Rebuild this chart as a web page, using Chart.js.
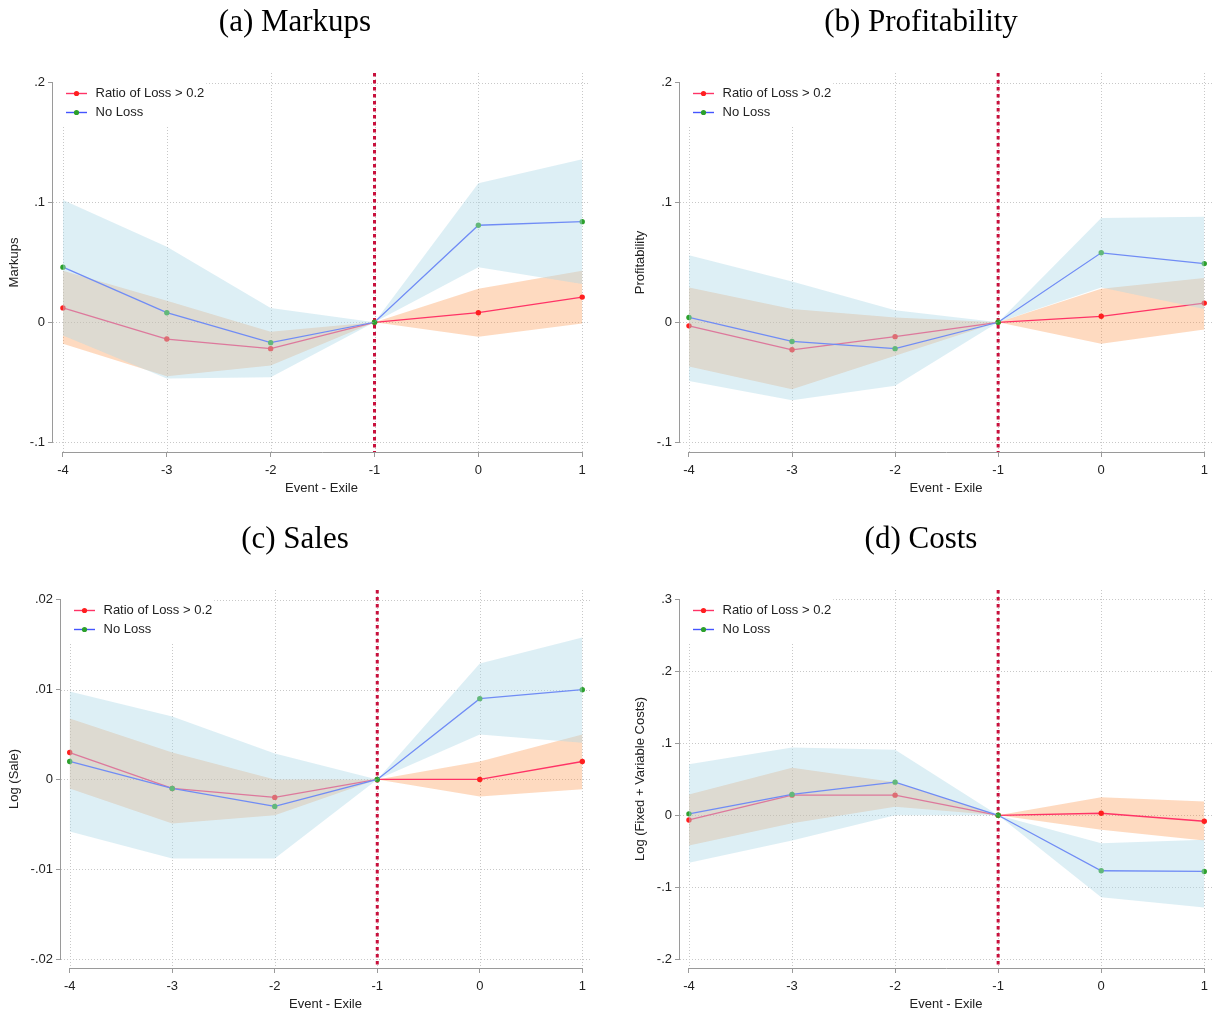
<!DOCTYPE html>
<html>
<head>
<meta charset="utf-8">
<script src="https://cdn.jsdelivr.net/npm/chart.js@4.4.1/dist/chart.umd.min.js"></script>
<style>
  body { margin: 0; background: #fff; width: 1216px; height: 1014px; overflow: hidden; position: relative; }
  canvas { position: absolute; }
</style>
</head>
<body>
<canvas id="chartA" width="608" height="498" style="left:0;top:0"></canvas>
<canvas id="chartB" width="590" height="498" style="left:626px;top:0"></canvas>
<canvas id="chartC" width="608" height="497" style="left:0;top:517px"></canvas>
<canvas id="chartD" width="590" height="497" style="left:626px;top:517px"></canvas>
<script>
// x axis: event time relative to exile
const eventTimes = [-4, -3, -2, -1, 0, 1];
const xTickLabels = ['-4', '-3', '-2', '-1', '0', '1'];
const eventLine = -1;
const seriesNames = ['Ratio of Loss > 0.2', 'No Loss'];
const xTitle = 'Event - Exile';

// (a) Markups
const markupsLoss = [0.012, -0.014, -0.022, 0, 0.008, 0.021];
const markupsLossLo = [-0.018, -0.045, -0.036, 0, -0.012, -0.001];
const markupsLossHi = [0.043, 0.018, -0.008, 0, 0.028, 0.043];
const markupsNoLoss = [0.046, 0.008, -0.017, 0, 0.081, 0.084];
const markupsNoLossLo = [-0.011, -0.047, -0.046, 0, 0.046, 0.032];
const markupsNoLossHi = [0.102, 0.063, 0.012, 0, 0.116, 0.136];
const markupsTicks = [-0.1, 0, 0.1, 0.2];
const markupsTickLabels = ['-.1', '0', '.1', '.2'];

// (b) Profitability
const profitLoss = [-0.003, -0.023, -0.012, 0, 0.005, 0.016];
const profitLossLo = [-0.037, -0.056, -0.028, 0, -0.018, -0.006];
const profitLossHi = [0.029, 0.011, 0.004, 0, 0.028, 0.037];
const profitNoLoss = [0.004, -0.016, -0.022, 0, 0.058, 0.049];
const profitNoLossLo = [-0.049, -0.065, -0.053, 0, 0.029, 0.011];
const profitNoLossHi = [0.056, 0.034, 0.010, 0, 0.087, 0.088];
const profitTicks = [-0.1, 0, 0.1, 0.2];
const profitTickLabels = ['-.1', '0', '.1', '.2'];

// (c) Sales
const salesLoss = [0.003, -0.001, -0.002, 0, 0, 0.002];
const salesLossLo = [-0.0010, -0.0049, -0.0040, 0, -0.0019, -0.0011];
const salesLossHi = [0.0068, 0.0030, 0.0000, 0, 0.0020, 0.0050];
const salesNoLoss = [0.002, -0.001, -0.003, 0, 0.009, 0.010];
const salesNoLossLo = [-0.0058, -0.0088, -0.0088, 0, 0.0050, 0.0041];
const salesNoLossHi = [0.0098, 0.0070, 0.0029, 0, 0.0129, 0.0158];
const salesTicks = [-0.02, -0.01, 0, 0.01, 0.02];
const salesTickLabels = ['-.02', '-.01', '0', '.01', '.02'];

// (d) Costs
const costsLoss = [-0.0065, 0.028, 0.028, 0, 0.0028, -0.0083];
const costsLossLo = [-0.042, -0.011, 0.012, 0, -0.020, -0.035];
const costsLossHi = [0.029, 0.066, 0.046, 0, 0.025, 0.019];
const costsNoLoss = [0.002, 0.029, 0.046, 0, -0.077, -0.078];
const costsNoLossLo = [-0.066, -0.035, 0.000, 0, -0.114, -0.128];
const costsNoLossHi = [0.071, 0.094, 0.091, 0, -0.039, -0.034];
const costsTicks = [-0.2, -0.1, 0, 0.1, 0.2, 0.3];
const costsTickLabels = ['-.2', '-.1', '0', '.1', '.2', '.3'];

// 颜色
const COLORS = {
  loss: '#ff3366',
  lossDot: '#ff1f1f',
  noLoss: '#4455ff',
  noLossDot: '#2ca02c',
  lossBand: 'rgba(253, 141, 60, 0.32)',
  noLossBand: 'rgba(173, 216, 230, 0.42)',
  eventLine: '#c8103c',
  grid: '#c8c8c8',
  axis: '#9a9a9a',
  text: '#222222'
};

const PLOT_TOP = 73; // 绘图区上边缘（画布内坐标）

Chart.defaults.font.family = '"Liberation Sans", Arial, sans-serif';
Chart.defaults.color = COLORS.text;

// 图例小图标：线段 + 圆点
function makeSwatch(lineColor, dotColor) {
  const c = document.createElement('canvas');
  c.width = 30;
  c.height = 7;
  const g = c.getContext('2d');
  g.strokeStyle = lineColor;
  g.lineWidth = 1.4;
  g.beginPath();
  g.moveTo(7, 3.5);
  g.lineTo(28, 3.5);
  g.stroke();
  g.fillStyle = dotColor;
  g.beginPath();
  g.arc(17.5, 3.5, 2.6, 0, Math.PI * 2);
  g.fill();
  return c;
}

const swatchLoss = makeSwatch(COLORS.loss, COLORS.lossDot);
const swatchNoLoss = makeSwatch(COLORS.noLoss, COLORS.noLossDot);

function toPoints(values) {
  return eventTimes.map((x, i) => ({ x: x, y: values[i] }));
}

// Stata 风格：点线网格（避开图例）、事件竖线、只覆盖刻度范围的坐标轴
const stataPlugin = {
  id: 'stataDecor',
  beforeDatasetsDraw(chart) {
    const { ctx, chartArea: ca, scales } = chart;
    let lx = ca.left;
    let ly = ca.top;
    chart.legend.legendHitBoxes.forEach(h => {
      lx = Math.max(lx, h.left + h.width);
      ly = Math.max(ly, h.top + h.height);
    });

    ctx.save();
    ctx.beginPath();
    ctx.rect(ca.left, ca.top, ca.width, ca.height);
    ctx.rect(ca.left, ca.top, lx - ca.left + 2, ly - ca.top + 6);
    ctx.clip('evenodd');
    ctx.strokeStyle = COLORS.grid;
    ctx.lineWidth = 1;
    ctx.setLineDash([1, 2]);
    scales.y.ticks.forEach(t => {
      const y = Math.round(scales.y.getPixelForValue(t.value)) + 0.5;
      ctx.beginPath();
      ctx.moveTo(ca.left, y);
      ctx.lineTo(ca.right, y);
      ctx.stroke();
    });
    scales.x.ticks.forEach(t => {
      const x = Math.round(scales.x.getPixelForValue(t.value)) + 0.5;
      ctx.beginPath();
      ctx.moveTo(x, ca.top);
      ctx.lineTo(x, ca.bottom);
      ctx.stroke();
    });
    ctx.restore();

    const ex = scales.x.getPixelForValue(eventLine);
    ctx.save();
    ctx.strokeStyle = COLORS.eventLine;
    ctx.lineWidth = 3;
    ctx.setLineDash([3.5, 3.5]);
    ctx.beginPath();
    ctx.moveTo(ex, ca.top);
    ctx.lineTo(ex, ca.bottom);
    ctx.stroke();
    ctx.restore();
  },
  afterDraw(chart) {
    const { ctx, chartArea: ca, scales } = chart;
    const yt = scales.y.ticks;
    const xt = scales.x.ticks;
    ctx.save();
    ctx.strokeStyle = COLORS.axis;
    ctx.lineWidth = 1;
    ctx.beginPath();
    const axX = Math.round(ca.left) - 0.5;
    ctx.moveTo(axX, scales.y.getPixelForValue(yt[yt.length - 1].value));
    ctx.lineTo(axX, scales.y.getPixelForValue(yt[0].value));
    const axY = Math.round(ca.bottom) + 0.5;
    ctx.moveTo(scales.x.getPixelForValue(xt[0].value), axY);
    ctx.lineTo(scales.x.getPixelForValue(xt[xt.length - 1].value), axY);
    ctx.stroke();
    ctx.restore();
  }
};

// 创建一个面板
function buildChart(p) {
  const datasets = [
    {
      label: 'noLossHi', data: toPoints(p.noLossHi), order: 0,
      borderWidth: 0, borderColor: 'transparent', pointRadius: 0,
      fill: '+1', backgroundColor: COLORS.noLossBand
    },
    {
      label: 'noLossLo', data: toPoints(p.noLossLo), order: 0,
      borderWidth: 0, borderColor: 'transparent', pointRadius: 0, fill: false
    },
    {
      label: seriesNames[1], data: toPoints(p.noLoss), order: 1,
      borderColor: COLORS.noLoss, borderWidth: 1.3, fill: false,
      pointRadius: 2.7, pointBorderWidth: 0,
      pointBackgroundColor: COLORS.noLossDot, pointBorderColor: COLORS.noLossDot
    },
    {
      label: seriesNames[0], data: toPoints(p.loss), order: 2,
      borderColor: COLORS.loss, borderWidth: 1.3, fill: false,
      pointRadius: 2.7, pointBorderWidth: 0,
      pointBackgroundColor: COLORS.lossDot, pointBorderColor: COLORS.lossDot
    },
    {
      label: 'lossHi', data: toPoints(p.lossHi), order: 3,
      borderWidth: 0, borderColor: 'transparent', pointRadius: 0,
      fill: '+1', backgroundColor: COLORS.lossBand
    },
    {
      label: 'lossLo', data: toPoints(p.lossLo), order: 3,
      borderWidth: 0, borderColor: 'transparent', pointRadius: 0, fill: false
    }
  ];

  return new Chart(document.getElementById(p.id), {
    type: 'line',
    data: { datasets: datasets },
    plugins: [stataPlugin],
    options: {
      responsive: false,
      devicePixelRatio: 1,
      animation: false,
      events: [],
      layout: { padding: { left: 0, right: p.padRight, top: 0, bottom: 0 } },
      elements: { line: { tension: 0 } },
      plugins: {
        tooltip: { enabled: false },
        title: {
          display: true,
          text: p.title,
          color: '#000',
          font: { family: '"Liberation Serif", "Times New Roman", serif', size: 31, weight: 'normal' },
          padding: { top: 4, bottom: PLOT_TOP - 4 - 31 * 1.2 }
        },
        legend: {
          position: 'chartArea',
          align: 'start',
          // 图例在绘图区内：用空标题把条目推到绘图区顶部下方
          title: { display: true, text: '', padding: { top: PLOT_TOP + 2, bottom: 0 }, font: { size: 5 } },
          labels: {
            usePointStyle: true,
            pointStyleWidth: 30,
            padding: 6,
            color: COLORS.text,
            font: { size: 13 },
            generateLabels: () => [
              { text: seriesNames[0], pointStyle: swatchLoss, fontColor: COLORS.text, lineWidth: 0, hidden: false, datasetIndex: 3 },
              { text: seriesNames[1], pointStyle: swatchNoLoss, fontColor: COLORS.text, lineWidth: 0, hidden: false, datasetIndex: 2 }
            ]
          }
        }
      },
      scales: {
        x: {
          type: 'linear',
          min: p.xMin,
          max: 1.075,
          afterBuildTicks: s => { s.ticks = eventTimes.map(v => ({ value: v })); },
          afterFit: s => { s.height = 46; },
          border: { display: false },
          grid: { drawOnChartArea: false, drawTicks: true, tickLength: 5, tickColor: COLORS.axis, tickWidth: 1 },
          ticks: {
            autoSkip: false, maxRotation: 0, padding: 6,
            font: { size: 13 }, color: COLORS.text,
            callback: (v, i) => xTickLabels[i]
          },
          title: { display: true, text: xTitle, font: { size: 13 }, color: COLORS.text, padding: { top: 0, bottom: 2 } }
        },
        y: {
          type: 'linear',
          min: p.yMin,
          max: p.yMax,
          afterBuildTicks: s => { s.ticks = p.yTicks.map(v => ({ value: v })); },
          afterFit: s => { s.width = p.axisWidth; },
          border: { display: false },
          grid: { drawOnChartArea: false, drawTicks: true, tickLength: 5, tickColor: COLORS.axis, tickWidth: 1 },
          ticks: {
            autoSkip: false, padding: 3,
            font: { size: 13 }, color: COLORS.text,
            callback: (v, i) => p.yLabels[i]
          },
          title: { display: true, text: p.yTitle, font: { size: 13 }, color: COLORS.text, padding: { top: 7, bottom: 0 } }
        }
      }
    }
  });
}

const panels = [
  {
    id: 'chartA', title: '(a) Markups', yTitle: 'Markups',
    loss: markupsLoss, lossLo: markupsLossLo, lossHi: markupsLossHi,
    noLoss: markupsNoLoss, noLossLo: markupsNoLossLo, noLossHi: markupsNoLossHi,
    yTicks: markupsTicks, yLabels: markupsTickLabels,
    yMin: -0.1083, yMax: 0.2081, xMin: -4.096, axisWidth: 53, padRight: 18
  },
  {
    id: 'chartB', title: '(b) Profitability', yTitle: 'Profitability',
    loss: profitLoss, lossLo: profitLossLo, lossHi: profitLossHi,
    noLoss: profitNoLoss, noLossLo: profitNoLossLo, noLossHi: profitNoLossHi,
    yTicks: profitTicks, yLabels: profitTickLabels,
    yMin: -0.1083, yMax: 0.2081, xMin: -4.087, axisWidth: 54, padRight: 0
  },
  {
    id: 'chartC', title: '(c) Sales', yTitle: 'Log (Sale)',
    loss: salesLoss, lossLo: salesLossLo, lossHi: salesLossHi,
    noLoss: salesNoLoss, noLossLo: salesNoLossLo, noLossHi: salesNoLossHi,
    yTicks: salesTicks, yLabels: salesTickLabels,
    yMin: -0.0210, yMax: 0.0211, xMin: -4.085, axisWidth: 61, padRight: 18
  },
  {
    id: 'chartD', title: '(d) Costs', yTitle: 'Log (Fixed + Variable Costs)',
    loss: costsLoss, lossLo: costsLossLo, lossHi: costsLossHi,
    noLoss: costsNoLoss, noLossLo: costsNoLossLo, noLossHi: costsNoLossHi,
    yTicks: costsTicks, yLabels: costsTickLabels,
    yMin: -0.2121, yMax: 0.3129, xMin: -4.087, axisWidth: 54, padRight: 0
  }
];

panels.forEach(buildChart);
</script>
</body>
</html>
